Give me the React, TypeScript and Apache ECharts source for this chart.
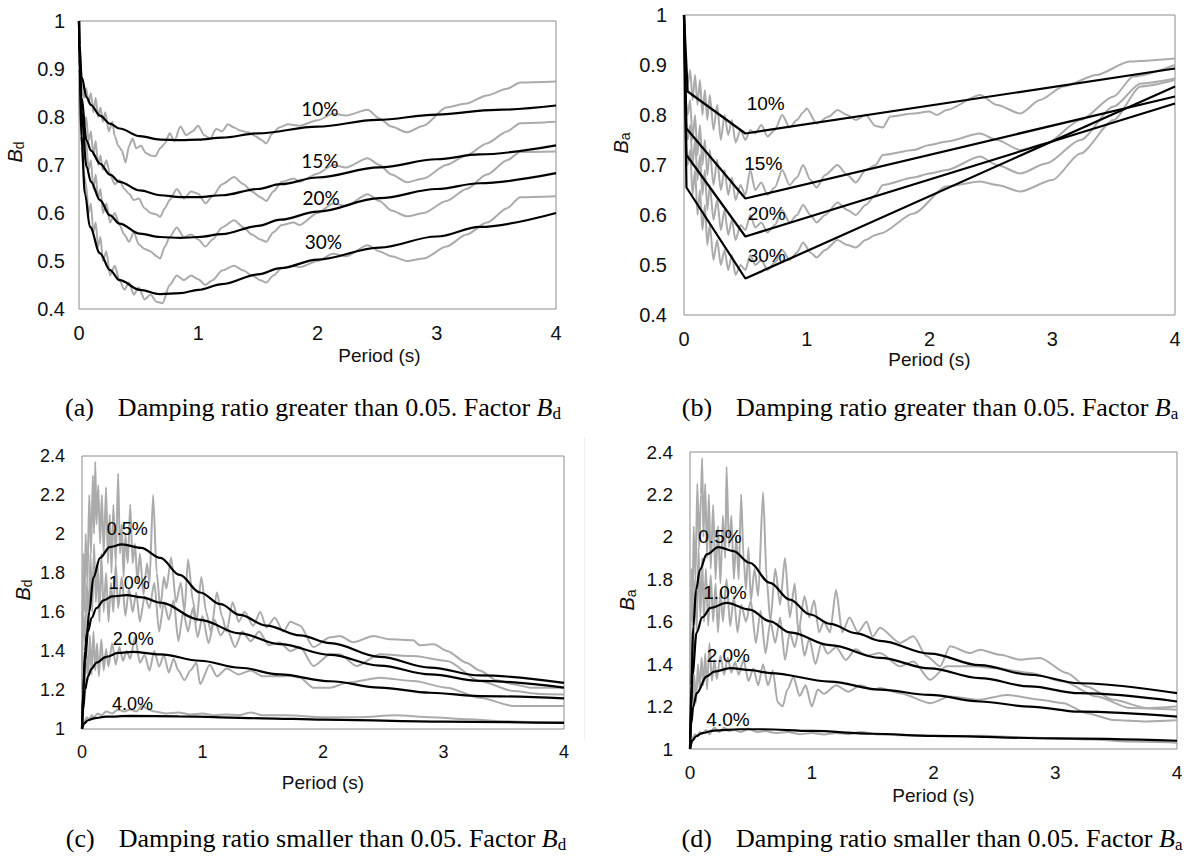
import React, { useEffect, useRef } from "react";
import * as echarts from "echarts";

type Pt = [number, number];

// ---------- shared axis values ----------
const periodTicks = { min: 0, max: 4, interval: 1 };
const rangeHigh = { min: 0.4, max: 1, interval: 0.1 };
const rangeLow = { min: 1, max: 2.4, interval: 0.2 };

// ---------- (a) Bd, damping > 0.05 ----------
const aFit10: Pt[] = [[0,1.0],[0.005,0.95],[0.022,0.883],[0.064,0.841],[0.1,0.825],[0.176,0.803],[0.26,0.786],[0.34,0.776],[0.51,0.76],[0.68,0.753],[0.85,0.752],[1.0,0.753],[1.2,0.757],[1.5,0.766],[2.0,0.78],[2.5,0.794],[3.0,0.805],[3.5,0.815],[4.0,0.824]];
const aFit15: Pt[] = [[0,1.0],[0.005,0.93],[0.02,0.84],[0.064,0.751],[0.1,0.73],[0.176,0.703],[0.26,0.68],[0.34,0.665],[0.51,0.647],[0.68,0.637],[0.85,0.633],[1.0,0.633],[1.2,0.637],[1.5,0.65],[1.69,0.66],[2.0,0.674],[2.52,0.695],[3.0,0.712],[3.36,0.722],[4.0,0.741]];
const aFit20: Pt[] = [[0,1.0],[0.005,0.92],[0.02,0.81],[0.064,0.696],[0.1,0.665],[0.176,0.627],[0.26,0.595],[0.34,0.578],[0.51,0.557],[0.68,0.55],[0.85,0.548],[1.0,0.55],[1.2,0.556],[1.5,0.573],[1.69,0.586],[2.0,0.603],[2.52,0.631],[3.0,0.65],[3.36,0.662],[4.0,0.683]];
const aFit30: Pt[] = [[0,1.0],[0.005,0.9],[0.02,0.76],[0.05,0.64],[0.092,0.571],[0.176,0.516],[0.26,0.481],[0.34,0.46],[0.51,0.44],[0.68,0.431],[0.85,0.433],[1.0,0.44],[1.2,0.452],[1.5,0.472],[1.69,0.485],[2.0,0.503],[2.52,0.528],[3.0,0.551],[3.36,0.571],[4.0,0.6]];

const aRec10: Pt[] = [[0,0.91],[0.02,0.87],[0.04,0.84],[0.06,0.86],[0.08,0.83],[0.1,0.85],[0.12,0.81],[0.14,0.84],[0.16,0.8],[0.18,0.82],[0.2,0.79],[0.22,0.81],[0.25,0.77],[0.28,0.79],[0.3,0.76],[0.33,0.74],[0.36,0.73],[0.39,0.705],[0.42,0.74],[0.45,0.755],[0.48,0.735],[0.52,0.74],[0.56,0.725],[0.6,0.72],[0.64,0.718],[0.68,0.735],[0.72,0.745],[0.76,0.766],[0.8,0.75],[0.85,0.78],[0.9,0.762],[0.95,0.77],[1.0,0.782],[1.05,0.762],[1.1,0.755],[1.15,0.775],[1.2,0.77],[1.25,0.785],[1.3,0.778],[1.35,0.772],[1.42,0.768],[1.48,0.76],[1.53,0.752],[1.57,0.745],[1.62,0.765],[1.68,0.778],[1.75,0.785],[1.85,0.782],[2.0,0.793],[2.13,0.807],[2.24,0.803],[2.42,0.815],[2.52,0.797],[2.62,0.78],[2.75,0.768],[2.89,0.782],[3.08,0.82],[3.25,0.828],[3.42,0.845],[3.59,0.859],[3.7,0.872],[4.0,0.874]];
const aRec15: Pt[] = [[0,0.88],[0.02,0.82],[0.04,0.78],[0.06,0.8],[0.08,0.75],[0.1,0.77],[0.12,0.72],[0.14,0.75],[0.16,0.7],[0.18,0.72],[0.2,0.69],[0.23,0.71],[0.26,0.68],[0.3,0.66],[0.34,0.668],[0.38,0.65],[0.42,0.64],[0.46,0.627],[0.5,0.63],[0.55,0.61],[0.6,0.6],[0.65,0.597],[0.68,0.592],[0.72,0.61],[0.76,0.627],[0.82,0.65],[0.88,0.63],[0.94,0.645],[1.0,0.64],[1.06,0.62],[1.12,0.635],[1.2,0.66],[1.3,0.675],[1.38,0.66],[1.45,0.645],[1.52,0.633],[1.57,0.625],[1.63,0.645],[1.7,0.665],[1.8,0.672],[1.85,0.665],[2.0,0.682],[2.13,0.7],[2.24,0.695],[2.42,0.714],[2.52,0.7],[2.62,0.68],[2.75,0.664],[2.89,0.672],[3.08,0.7],[3.25,0.72],[3.42,0.745],[3.59,0.77],[3.7,0.787],[4.0,0.79]];
const aRec20: Pt[] = [[0,0.86],[0.02,0.78],[0.04,0.73],[0.06,0.75],[0.08,0.69],[0.1,0.71],[0.12,0.65],[0.14,0.68],[0.16,0.63],[0.18,0.65],[0.2,0.6],[0.23,0.62],[0.26,0.58],[0.3,0.6],[0.34,0.575],[0.38,0.555],[0.42,0.54],[0.46,0.56],[0.5,0.535],[0.55,0.525],[0.6,0.52],[0.65,0.51],[0.68,0.505],[0.72,0.53],[0.76,0.55],[0.82,0.57],[0.88,0.55],[0.94,0.555],[1.0,0.545],[1.06,0.53],[1.12,0.545],[1.2,0.57],[1.3,0.585],[1.38,0.57],[1.45,0.555],[1.52,0.545],[1.57,0.54],[1.63,0.56],[1.7,0.575],[1.8,0.58],[1.85,0.575],[2.0,0.6],[2.13,0.62],[2.24,0.615],[2.42,0.639],[2.52,0.625],[2.62,0.605],[2.75,0.593],[2.89,0.6],[3.08,0.625],[3.25,0.65],[3.42,0.68],[3.59,0.71],[3.7,0.727],[4.0,0.728]];
const aRec30: Pt[] = [[0,0.84],[0.02,0.74],[0.04,0.68],[0.06,0.66],[0.08,0.6],[0.1,0.62],[0.12,0.56],[0.14,0.58],[0.16,0.53],[0.18,0.55],[0.2,0.5],[0.23,0.52],[0.26,0.47],[0.3,0.49],[0.34,0.46],[0.38,0.44],[0.42,0.455],[0.46,0.43],[0.5,0.445],[0.55,0.42],[0.6,0.43],[0.65,0.415],[0.7,0.412],[0.76,0.45],[0.82,0.47],[0.88,0.46],[0.94,0.47],[1.0,0.462],[1.06,0.45],[1.12,0.46],[1.2,0.48],[1.3,0.49],[1.38,0.48],[1.45,0.47],[1.52,0.46],[1.57,0.455],[1.63,0.47],[1.7,0.485],[1.8,0.49],[1.85,0.487],[2.0,0.5],[2.13,0.515],[2.24,0.51],[2.42,0.533],[2.52,0.52],[2.62,0.51],[2.75,0.5],[2.89,0.505],[3.08,0.53],[3.25,0.555],[3.42,0.58],[3.59,0.61],[3.7,0.633],[4.0,0.635]];

// ---------- (b) Ba, damping > 0.05 ----------
const bFit10: Pt[] = [[0,1],[0.03,0.847],[0.5,0.763],[4,0.893]];
const bFit15: Pt[] = [[0,1],[0.02,0.773],[0.5,0.633],[4,0.837]];
const bFit20: Pt[] = [[0,1],[0.02,0.72],[0.5,0.557],[4,0.823]];
const bFit30: Pt[] = [[0,1],[0.02,0.655],[0.5,0.473],[4,0.857]];

const bRec10: Pt[] = [[0,0.95],[0.01,0.9],[0.03,0.86],[0.05,0.89],[0.07,0.83],[0.09,0.88],[0.11,0.82],[0.13,0.87],[0.15,0.8],[0.17,0.85],[0.19,0.79],[0.21,0.84],[0.24,0.77],[0.27,0.82],[0.3,0.75],[0.33,0.8],[0.36,0.76],[0.39,0.79],[0.42,0.745],[0.46,0.77],[0.5,0.75],[0.54,0.77],[0.58,0.763],[0.63,0.78],[0.68,0.757],[0.74,0.77],[0.8,0.8],[0.86,0.775],[0.92,0.79],[0.97,0.805],[1.0,0.813],[1.08,0.783],[1.18,0.797],[1.25,0.81],[1.33,0.8],[1.4,0.79],[1.48,0.8],[1.56,0.778],[1.62,0.775],[1.68,0.797],[1.87,0.803],[2.0,0.807],[2.06,0.8],[2.14,0.81],[2.41,0.84],[2.55,0.82],[2.74,0.803],[2.9,0.83],[3.09,0.857],[3.36,0.88],[3.63,0.907],[4.0,0.913]];
const bRec15: Pt[] = [[0,0.92],[0.01,0.84],[0.03,0.8],[0.05,0.83],[0.07,0.75],[0.09,0.8],[0.11,0.72],[0.13,0.78],[0.15,0.7],[0.17,0.75],[0.19,0.68],[0.21,0.73],[0.24,0.66],[0.27,0.71],[0.3,0.65],[0.33,0.69],[0.36,0.64],[0.39,0.675],[0.42,0.63],[0.46,0.66],[0.5,0.64],[0.54,0.69],[0.58,0.65],[0.63,0.665],[0.68,0.64],[0.74,0.655],[0.8,0.69],[0.86,0.66],[0.92,0.675],[0.97,0.7],[1.03,0.67],[1.08,0.655],[1.15,0.68],[1.25,0.7],[1.33,0.68],[1.4,0.665],[1.48,0.69],[1.56,0.7],[1.62,0.72],[1.87,0.73],[2.0,0.74],[2.14,0.747],[2.41,0.763],[2.55,0.75],[2.74,0.73],[2.95,0.743],[3.23,0.79],[3.5,0.837],[3.66,0.877],[4.0,0.9]];
const bRec20: Pt[] = [[0,0.9],[0.01,0.8],[0.03,0.75],[0.05,0.78],[0.07,0.7],[0.09,0.75],[0.11,0.67],[0.13,0.72],[0.15,0.64],[0.17,0.69],[0.19,0.61],[0.21,0.66],[0.24,0.59],[0.27,0.63],[0.3,0.57],[0.33,0.61],[0.36,0.56],[0.39,0.59],[0.42,0.55],[0.46,0.58],[0.5,0.57],[0.54,0.6],[0.58,0.575],[0.63,0.585],[0.68,0.565],[0.74,0.58],[0.8,0.61],[0.86,0.585],[0.92,0.6],[0.97,0.62],[1.03,0.6],[1.08,0.585],[1.15,0.6],[1.25,0.625],[1.33,0.61],[1.4,0.6],[1.48,0.62],[1.56,0.64],[1.62,0.66],[1.87,0.675],[2.0,0.683],[2.14,0.69],[2.41,0.717],[2.55,0.7],[2.74,0.683],[2.95,0.703],[3.23,0.75],[3.5,0.817],[3.72,0.863],[4.0,0.873]];
const bRec30: Pt[] = [[0,0.88],[0.01,0.76],[0.03,0.7],[0.05,0.73],[0.07,0.64],[0.09,0.69],[0.11,0.6],[0.13,0.65],[0.15,0.57],[0.17,0.62],[0.19,0.54],[0.21,0.58],[0.24,0.51],[0.27,0.55],[0.3,0.5],[0.33,0.53],[0.36,0.49],[0.39,0.52],[0.42,0.48],[0.46,0.5],[0.5,0.49],[0.54,0.52],[0.58,0.5],[0.63,0.51],[0.68,0.49],[0.74,0.505],[0.8,0.53],[0.86,0.51],[0.92,0.525],[0.97,0.545],[1.03,0.525],[1.08,0.515],[1.15,0.53],[1.25,0.55],[1.33,0.54],[1.4,0.535],[1.48,0.55],[1.56,0.56],[1.6,0.563],[1.87,0.603],[2.14,0.657],[2.41,0.667],[2.55,0.66],[2.74,0.647],[3.0,0.67],[3.23,0.723],[3.5,0.79],[3.72,0.857],[4.0,0.87]];

// ---------- (c) Bd, damping < 0.05 ----------
const cFit05: Pt[] = [[0,1.0],[0.01,1.2],[0.025,1.4],[0.04,1.49],[0.06,1.6],[0.094,1.776],[0.15,1.878],[0.23,1.933],[0.33,1.947],[0.49,1.929],[0.65,1.878],[0.81,1.79],[0.98,1.7],[1.15,1.64],[1.31,1.585],[1.53,1.53],[1.81,1.48],[2.06,1.44],[2.47,1.37],[2.89,1.315],[3.3,1.275],[4.0,1.237]];
const cFit10: Pt[] = [[0,1.0],[0.01,1.18],[0.025,1.35],[0.05,1.5],[0.08,1.57],[0.12,1.62],[0.18,1.66],[0.25,1.68],[0.37,1.687],[0.5,1.675],[0.65,1.648],[0.98,1.56],[1.31,1.49],[1.64,1.435],[2.06,1.38],[2.47,1.325],[2.89,1.28],[3.3,1.247],[4.0,1.212]];
const cFit20: Pt[] = [[0,1.0],[0.01,1.1],[0.025,1.2],[0.05,1.27],[0.08,1.31],[0.12,1.34],[0.2,1.37],[0.3,1.39],[0.42,1.396],[0.65,1.383],[0.98,1.35],[1.31,1.314],[1.64,1.28],[2.06,1.245],[2.47,1.212],[2.89,1.186],[3.3,1.169],[4.0,1.157]];
const cFit40: Pt[] = [[0,1.0],[0.02,1.03],[0.05,1.045],[0.1,1.055],[0.2,1.063],[0.4,1.067],[0.8,1.065],[1.5,1.055],[2.0,1.048],[3.0,1.038],[4.0,1.031]];

const cRec05: Pt[] = [[0,1.3],[0.01,1.9],[0.02,1.6],[0.03,2.0],[0.045,1.75],[0.06,2.2],[0.075,1.9],[0.09,2.3],[0.1,2.0],[0.11,2.37],[0.12,2.05],[0.135,2.25],[0.15,1.95],[0.165,2.2],[0.18,1.9],[0.2,2.24],[0.215,1.85],[0.23,2.1],[0.245,1.8],[0.26,2.15],[0.28,1.85],[0.3,2.31],[0.315,1.9],[0.33,2.05],[0.345,1.78],[0.36,2.0],[0.38,1.85],[0.4,2.15],[0.42,1.85],[0.44,1.95],[0.46,1.75],[0.48,1.9],[0.51,1.69],[0.54,1.85],[0.56,1.75],[0.59,2.2],[0.62,1.8],[0.65,1.62],[0.68,1.78],[0.7,1.72],[0.74,1.88],[0.78,1.65],[0.82,1.75],[0.85,1.6],[0.88,1.87],[0.92,1.66],[0.95,1.55],[0.99,1.78],[1.03,1.6],[1.07,1.5],[1.12,1.7],[1.16,1.58],[1.2,1.5],[1.25,1.65],[1.3,1.55],[1.35,1.6],[1.42,1.53],[1.48,1.6],[1.53,1.52],[1.6,1.57],[1.67,1.5],[1.73,1.55],[1.81,1.53],[1.92,1.42],[2.06,1.47],[2.14,1.477],[2.25,1.445],[2.42,1.477],[2.55,1.46],[2.75,1.455],[2.8,1.43],[2.92,1.434],[3.03,1.4],[3.19,1.34],[3.3,1.3],[3.44,1.25],[3.58,1.23],[3.72,1.212],[4.0,1.212]];
const cRec10: Pt[] = [[0,1.2],[0.01,1.6],[0.025,1.45],[0.04,1.75],[0.055,1.55],[0.07,1.9],[0.085,1.6],[0.1,1.95],[0.115,1.65],[0.13,1.85],[0.145,1.55],[0.16,1.9],[0.18,1.6],[0.2,1.8],[0.22,1.55],[0.24,1.75],[0.26,1.6],[0.28,1.85],[0.3,1.62],[0.33,1.78],[0.36,1.58],[0.39,1.72],[0.42,1.6],[0.45,1.7],[0.48,1.55],[0.52,1.68],[0.56,1.62],[0.6,1.75],[0.64,1.5],[0.68,1.65],[0.72,1.56],[0.76,1.66],[0.8,1.45],[0.84,1.6],[0.88,1.5],[0.92,1.62],[0.96,1.47],[1.0,1.58],[1.05,1.44],[1.1,1.56],[1.15,1.48],[1.2,1.52],[1.27,1.42],[1.33,1.5],[1.4,1.45],[1.47,1.5],[1.55,1.43],[1.64,1.443],[1.73,1.4],[1.81,1.42],[1.92,1.323],[2.06,1.383],[2.14,1.383],[2.28,1.323],[2.47,1.383],[2.75,1.374],[3.03,1.349],[3.3,1.246],[3.58,1.195],[3.8,1.18],[4.0,1.177]];
const cRec20: Pt[] = [[0,1.1],[0.01,1.3],[0.02,1.2],[0.035,1.42],[0.05,1.25],[0.065,1.48],[0.08,1.28],[0.095,1.5],[0.11,1.3],[0.125,1.44],[0.14,1.27],[0.16,1.46],[0.18,1.3],[0.2,1.41],[0.22,1.32],[0.25,1.44],[0.28,1.33],[0.31,1.42],[0.34,1.35],[0.37,1.4],[0.4,1.36],[0.44,1.47],[0.48,1.34],[0.52,1.38],[0.56,1.3],[0.6,1.4],[0.64,1.32],[0.68,1.38],[0.72,1.29],[0.76,1.36],[0.8,1.3],[0.85,1.25],[0.9,1.3],[0.95,1.34],[0.98,1.23],[1.06,1.33],[1.12,1.27],[1.2,1.31],[1.3,1.28],[1.4,1.3],[1.5,1.27],[1.6,1.27],[1.73,1.272],[1.81,1.263],[1.92,1.212],[2.06,1.212],[2.2,1.237],[2.47,1.263],[2.75,1.246],[3.03,1.212],[3.3,1.16],[3.58,1.118],[3.8,1.118],[4.0,1.118]];
const cRec40: Pt[] = [[0,1.0],[0.02,1.04],[0.04,1.06],[0.06,1.05],[0.08,1.07],[0.1,1.06],[0.13,1.08],[0.16,1.07],[0.2,1.09],[0.25,1.08],[0.3,1.1],[0.35,1.09],[0.4,1.1],[0.45,1.09],[0.5,1.12],[0.55,1.1],[0.6,1.09],[0.7,1.08],[0.8,1.085],[0.9,1.075],[1.0,1.08],[1.1,1.07],[1.2,1.075],[1.3,1.07],[1.4,1.085],[1.5,1.07],[1.7,1.07],[2.0,1.06],[2.3,1.06],[2.6,1.07],[2.9,1.06],[3.2,1.05],[3.5,1.04],[3.8,1.035],[4.0,1.035]];

// ---------- (d) Ba, damping < 0.05 ----------
const dFit05: Pt[] = [[0,1.0],[0.01,1.3],[0.027,1.578],[0.05,1.75],[0.082,1.846],[0.137,1.917],[0.233,1.952],[0.356,1.933],[0.49,1.878],[0.657,1.783],[0.82,1.704],[0.986,1.634],[1.15,1.59],[1.37,1.545],[1.56,1.51],[1.97,1.45],[2.38,1.395],[2.79,1.35],[3.2,1.31],[4.0,1.263]];
const dFit10: Pt[] = [[0,1.0],[0.01,1.2],[0.02,1.35],[0.055,1.55],[0.1,1.62],[0.17,1.665],[0.3,1.689],[0.49,1.657],[0.657,1.602],[0.82,1.55],[1.15,1.49],[1.56,1.43],[1.97,1.38],[2.38,1.334],[2.79,1.295],[3.2,1.263],[4.0,1.224]];
const dFit20: Pt[] = [[0,1.0],[0.01,1.12],[0.027,1.2],[0.055,1.263],[0.137,1.342],[0.2,1.365],[0.33,1.381],[0.5,1.372],[0.657,1.358],[1.15,1.318],[1.56,1.28],[1.97,1.255],[2.38,1.224],[2.79,1.2],[3.2,1.176],[4.0,1.153]];
const dFit40: Pt[] = [[0,1.0],[0.02,1.04],[0.05,1.06],[0.1,1.075],[0.2,1.087],[0.4,1.093],[0.6,1.093],[1.0,1.085],[1.5,1.072],[2.0,1.062],[3.0,1.05],[4.0,1.039]];

const dRec05: Pt[] = [[0,1.2],[0.01,1.85],[0.02,1.6],[0.03,2.05],[0.045,1.8],[0.06,2.25],[0.075,1.95],[0.09,2.2],[0.1,2.37],[0.11,2.0],[0.125,2.25],[0.14,1.9],[0.155,2.2],[0.17,1.85],[0.19,2.15],[0.21,1.8],[0.23,2.05],[0.25,1.78],[0.27,2.1],[0.29,1.9],[0.3,2.33],[0.32,1.95],[0.34,2.1],[0.36,1.8],[0.38,2.0],[0.4,1.8],[0.42,2.2],[0.44,1.9],[0.46,1.75],[0.48,1.95],[0.5,1.7],[0.53,1.85],[0.56,1.72],[0.6,2.21],[0.63,1.8],[0.66,1.6],[0.7,1.85],[0.74,1.68],[0.78,1.9],[0.82,1.62],[0.86,1.78],[0.89,1.55],[0.94,1.72],[0.98,1.62],[1.02,1.7],[1.06,1.55],[1.1,1.6],[1.15,1.55],[1.2,1.75],[1.25,1.55],[1.31,1.62],[1.38,1.55],[1.45,1.6],[1.5,1.53],[1.56,1.571],[1.725,1.5],[1.835,1.531],[1.944,1.437],[2.054,1.39],[2.136,1.484],[2.3,1.452],[2.382,1.468],[2.547,1.444],[2.711,1.421],[2.875,1.429],[3.094,1.358],[3.258,1.295],[3.477,1.232],[3.751,1.193],[4.0,1.2]];
const dRec10: Pt[] = [[0,1.15],[0.01,1.55],[0.025,1.4],[0.04,1.8],[0.055,1.55],[0.07,1.95],[0.085,1.62],[0.1,1.9],[0.115,1.6],[0.13,1.85],[0.15,1.58],[0.17,1.82],[0.19,1.6],[0.21,1.78],[0.23,1.55],[0.25,1.75],[0.27,1.6],[0.3,1.8],[0.33,1.58],[0.36,1.72],[0.39,1.55],[0.42,1.68],[0.46,1.6],[0.5,1.7],[0.54,1.5],[0.58,1.65],[0.62,1.45],[0.66,1.6],[0.7,1.5],[0.74,1.62],[0.78,1.42],[0.82,1.55],[0.86,1.48],[0.9,1.58],[0.94,1.44],[0.98,1.52],[1.03,1.4],[1.08,1.5],[1.13,1.45],[1.2,1.48],[1.28,1.42],[1.36,1.47],[1.45,1.44],[1.561,1.452],[1.725,1.39],[1.835,1.413],[1.972,1.326],[2.109,1.39],[2.328,1.39],[2.519,1.381],[2.793,1.358],[3.067,1.318],[3.341,1.247],[3.614,1.193],[4.0,1.185]];
const dRec20: Pt[] = [[0,1.05],[0.01,1.25],[0.02,1.18],[0.035,1.35],[0.05,1.22],[0.065,1.4],[0.08,1.28],[0.095,1.43],[0.11,1.3],[0.125,1.45],[0.14,1.28],[0.16,1.5],[0.18,1.32],[0.2,1.42],[0.22,1.33],[0.25,1.44],[0.28,1.35],[0.31,1.43],[0.34,1.36],[0.37,1.41],[0.4,1.35],[0.44,1.42],[0.48,1.32],[0.52,1.38],[0.56,1.3],[0.6,1.4],[0.64,1.3],[0.68,1.37],[0.72,1.22],[0.76,1.2],[0.8,1.28],[0.85,1.34],[0.9,1.25],[0.95,1.3],[1.0,1.2],[1.05,1.28],[1.1,1.26],[1.2,1.3],[1.3,1.27],[1.4,1.3],[1.5,1.28],[1.561,1.287],[1.725,1.263],[1.972,1.216],[2.136,1.247],[2.382,1.232],[2.601,1.255],[2.875,1.232],[3.067,1.216],[3.258,1.169],[3.477,1.137],[3.75,1.13],[4.0,1.135]];
const dRec40: Pt[] = [[0,1.0],[0.02,1.05],[0.04,1.07],[0.06,1.06],[0.08,1.08],[0.1,1.07],[0.13,1.09],[0.16,1.07],[0.2,1.1],[0.24,1.08],[0.28,1.1],[0.32,1.085],[0.36,1.09],[0.42,1.08],[0.48,1.095],[0.55,1.08],[0.62,1.085],[0.7,1.075],[0.8,1.08],[0.9,1.07],[1.0,1.075],[1.1,1.068],[1.2,1.075],[1.3,1.07],[1.4,1.08],[1.55,1.068],[1.8,1.065],[2.1,1.06],[2.4,1.062],[2.7,1.055],[3.0,1.05],[3.3,1.045],[3.6,1.035],[4.0,1.03]];

// ---------- curve annotations (label text + anchor in data units) ----------
const highLabels = ["10%", "15%", "20%", "30%"];
const lowLabels = ["0.5%", "1.0%", "2.0%", "4.0%"];
const aLabelAt: Pt[] = [[2.02, 0.818], [2.02, 0.71], [2.03, 0.633], [2.05, 0.541]];
const bLabelAt: Pt[] = [[0.666, 0.823], [0.646, 0.703], [0.674, 0.603], [0.674, 0.52]];
const cLabelAt: Pt[] = [[0.376, 2.024], [0.393, 1.747], [0.426, 1.46], [0.42, 1.13]];
const dLabelAt: Pt[] = [[0.246, 2.001], [0.287, 1.736], [0.315, 1.44], [0.312, 1.137]];

const captions = [
  { tag: "(a)", text: "Damping ratio greater than 0.05. Factor ", sym: "B", sub: "d" },
  { tag: "(b)", text: "Damping ratio greater than 0.05. Factor ", sym: "B", sub: "a" },
  { tag: "(c)", text: "Damping ratio smaller than 0.05. Factor ", sym: "B", sub: "d" },
  { tag: "(d)", text: "Damping ratio smaller than 0.05. Factor ", sym: "B", sub: "a" },
];

const SANS = "Liberation Sans, Arial, sans-serif";
const SERIF = "Liberation Serif, Times New Roman, serif";
const GRAY = "#ababab";
const BLACK = "#000000";

const panels = [
  { grid: { left: 79, top: 21, width: 477, height: 288 }, range: rangeHigh, fits: [aFit10, aFit15, aFit20, aFit30], recs: [aRec10, aRec15, aRec20, aRec30], labels: highLabels, labelAt: aLabelAt, labelFont: "Lato, Carlito, sans-serif", labelSize: 19, tickSize: 20, yMargin: 14, nameGap: 37, namePad: 124, sub: "d", yName: [15, 152], caption: [313, 407], smooth: true },
  { grid: { left: 684, top: 15, width: 491, height: 300 }, range: rangeHigh, fits: [bFit10, bFit15, bFit20, bFit30], recs: [bRec10, bRec15, bRec20, bRec30], labels: highLabels, labelAt: bLabelAt, labelFont: SANS, labelSize: 19, tickSize: 20, yMargin: 17, nameGap: 32, namePad: 0, sub: "a", yName: [621, 143], caption: [930, 407], smooth: false },
  { grid: { left: 82, top: 456, width: 482, height: 273 }, range: rangeLow, fits: [cFit05, cFit10, cFit20, cFit40], recs: [cRec05, cRec10, cRec20, cRec40], labels: lowLabels, labelAt: cLabelAt, labelFont: SANS, labelSize: 18, tickSize: 18, yMargin: 17, nameGap: 44, namePad: 0, sub: "d", yName: [23, 590], caption: [316, 838], smooth: true },
  { grid: { left: 690, top: 452, width: 487, height: 297 }, range: rangeLow, fits: [dFit05, dFit10, dFit20, dFit40], recs: [dRec05, dRec10, dRec20, dRec40], labels: lowLabels, labelAt: dLabelAt, labelFont: SANS, labelSize: 19, tickSize: 19, yMargin: 17, nameGap: 37, namePad: 0, sub: "a", yName: [627, 600], caption: [932, 838], smooth: true },
];

function buildOption(): echarts.EChartsOption {
  const grid: any[] = [];
  const xAxis: any[] = [];
  const yAxis: any[] = [];
  const series: any[] = [];
  const graphic: any[] = [];

  panels.forEach((p, i) => {
    grid.push({ ...p.grid, show: true, borderColor: "#8c8c8c", borderWidth: 1, backgroundColor: "transparent" });
    xAxis.push({
      gridIndex: i, type: "value", ...periodTicks,
      axisLine: { show: false }, axisTick: { show: false }, splitLine: { show: false },
      axisLabel: { fontSize: p.tickSize, color: "#111", fontFamily: SANS, margin: 14 },
      name: "Period (s)", nameLocation: "middle", nameGap: p.nameGap,
      nameTextStyle: { fontSize: 19, color: "#111", fontFamily: SANS, padding: [0, 0, 0, p.namePad] },
    });
    yAxis.push({
      gridIndex: i, type: "value", ...p.range,
      axisLine: { show: false }, axisTick: { show: false }, splitLine: { show: false },
      axisLabel: { fontSize: p.tickSize, color: "#111", fontFamily: SANS, margin: p.yMargin },
    });

    p.recs.forEach((d) => {
      series.push({
        type: "line", xAxisIndex: i, yAxisIndex: i, data: d, showSymbol: false, symbol: "none",
        smooth: 0.25, smoothMonotone: "x", lineStyle: { color: GRAY, width: 2 }, z: 2, silent: true,
      });
    });
    p.fits.forEach((d) => {
      series.push({
        type: "line", xAxisIndex: i, yAxisIndex: i, data: d, showSymbol: false, symbol: "none",
        smooth: p.smooth ? 0.35 : false, smoothMonotone: "x", lineStyle: { color: BLACK, width: 2.2 }, z: 3, silent: true,
      });
    });
    series.push({
      type: "scatter", xAxisIndex: i, yAxisIndex: i, symbolSize: 0, itemStyle: { color: "#000", opacity: 1 }, z: 4,
      data: p.labelAt.map((pt, k) => ({ value: pt, name: p.labels[k] })),
      label: {
        show: true, position: "inside", formatter: "{b}", fontSize: p.labelSize, fontFamily: p.labelFont,
        color: "#000", opacity: 1, textBorderWidth: 0,
      },
      silent: true,
    });

    // rotated axis symbol: italic B with subscript
    graphic.push({
      type: "text", x: p.yName[0], y: p.yName[1], rotation: Math.PI / 2,
      style: {
        text: `{b|B}{s|${p.sub}}`, align: "center", verticalAlign: "middle",
        rich: {
          b: { fontSize: 20, fontStyle: "italic", fontFamily: SANS, fill: "#111", lineHeight: 22 },
          s: { fontSize: 14, fontFamily: SANS, fill: "#111", verticalAlign: "bottom", lineHeight: 14 },
        },
      },
    });

    const c = captions[i];
    graphic.push({
      type: "text", x: p.caption[0], y: p.caption[1],
      style: {
        text: `{n|${c.tag}}{g|}{n|${c.text}}{i|${c.sym}}{s|${c.sub}}`, align: "center", verticalAlign: "middle",
        rich: {
          n: { fontSize: 26, fontFamily: SERIF, fill: "#000", lineHeight: 30 },
          g: { width: 24, lineHeight: 30 },
          i: { fontSize: 26, fontFamily: SERIF, fontStyle: "italic", fill: "#000", lineHeight: 30 },
          s: { fontSize: 17, fontFamily: SERIF, fill: "#000", verticalAlign: "bottom", lineHeight: 17 },
        },
      },
    });
  });

  // faint frame edge at the right of panel (c)
  graphic.push({ type: "line", shape: { x1: 584.5, y1: 437, x2: 584.5, y2: 740 }, style: { stroke: "#efefef", lineWidth: 1 } });

  return { animation: false, backgroundColor: "#ffffff", grid, xAxis, yAxis, series, graphic };
}

export default function App() {
  const ref = useRef<HTMLDivElement>(null);
  useEffect(() => {
    if (!ref.current) return;
    const chart = echarts.init(ref.current, undefined, { renderer: "svg" });
    chart.setOption(buildOption());
    return () => chart.dispose();
  }, []);
  return <div ref={ref} style={{ position: "absolute", left: 0, top: 0, width: 1192, height: 865 }} />;
}
